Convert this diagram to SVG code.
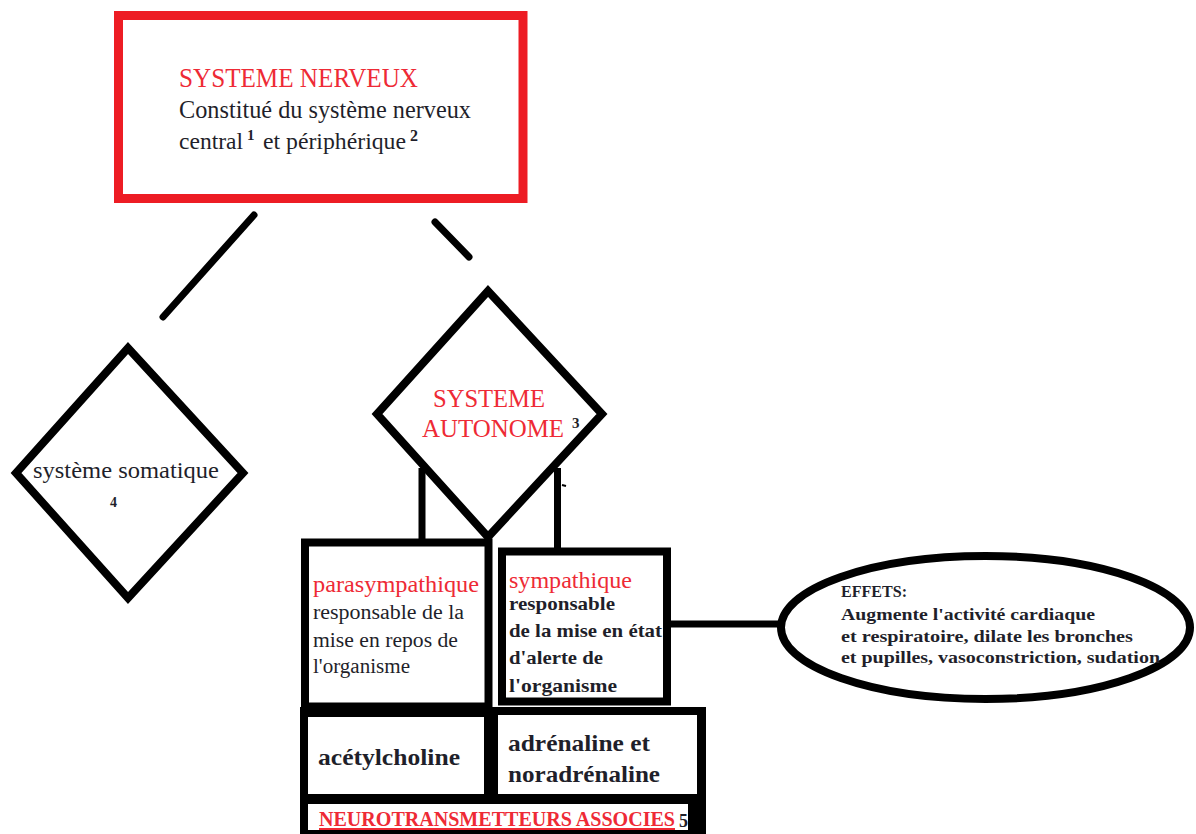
<svg xmlns="http://www.w3.org/2000/svg" width="1196" height="834" viewBox="0 0 1196 834">
<style>
.ser{font-family:"Liberation Serif","Times New Roman",serif;}
.red{fill:#ee2a35;}
.dk{fill:#1f1f2a;}
.b{font-weight:bold;}
.shape{fill:#fff;stroke:#000;stroke-width:8;}
.conn{stroke:#000;stroke-width:7;fill:none;}
</style>
<rect width="1196" height="834" fill="#fff"/>
<g id="connectors">
<line class="conn" x1="254" y1="215" x2="163" y2="317" stroke-linecap="round"/>
<line class="conn" x1="435" y1="222" x2="469" y2="257" stroke-linecap="round"/>
<line class="conn" x1="422" y1="468" x2="422" y2="542" stroke-width="8"/>
<line class="conn" x1="557.5" y1="468" x2="557.5" y2="551" stroke-width="8"/>
<line x1="562" y1="485" x2="566" y2="486" stroke="#000" stroke-width="2"/>
<line class="conn" x1="667" y1="624" x2="781" y2="624" stroke-width="8"/>
</g>
<g id="systeme-nerveux">
<rect x="118.5" y="15.5" width="404.5" height="183" fill="#fff" stroke="#ed1c24" stroke-width="9"/>
<text class="ser red" x="179" y="87" font-size="27" textLength="239" lengthAdjust="spacingAndGlyphs">SYSTEME NERVEUX</text>
<text class="ser dk" x="179" y="118" font-size="26" textLength="292" lengthAdjust="spacingAndGlyphs">Constitué du système nerveux</text>
<text class="ser dk" x="179" y="149" font-size="24" textLength="64" lengthAdjust="spacingAndGlyphs">central</text>
<text class="ser dk b" x="247" y="140" font-size="15">1</text>
<text class="ser dk" x="263" y="149" font-size="24" textLength="143" lengthAdjust="spacingAndGlyphs">et périphérique</text>
<text class="ser dk b" x="410" y="141" font-size="16">2</text>
</g>
<g id="systeme-somatique">
<polygon class="shape" points="128,348 243,473 128,598 16,473"/>
<text class="ser dk" x="33" y="478" font-size="23" textLength="186" lengthAdjust="spacingAndGlyphs">système somatique</text>
<text class="ser dk b" x="110" y="507" font-size="14">4</text>
</g>
<g id="systeme-autonome">
<polygon class="shape" points="488,291 602,414 488,537 377,414"/>
<text class="ser red" x="433" y="407" font-size="26" textLength="112" lengthAdjust="spacingAndGlyphs">SYSTEME</text>
<text class="ser red" x="422" y="437" font-size="26" textLength="142" lengthAdjust="spacingAndGlyphs">AUTONOME</text>
<text class="ser dk b" x="572" y="428" font-size="15">3</text>
</g>
<g id="parasympathique">
<rect class="shape" x="305" y="542.5" width="183.5" height="164"/>
<text class="ser red" x="313" y="592" font-size="23" textLength="166" lengthAdjust="spacingAndGlyphs">parasympathique</text>
<text class="ser dk" x="313" y="619" font-size="20" textLength="151" lengthAdjust="spacingAndGlyphs">responsable de la</text>
<text class="ser dk" x="313" y="647" font-size="20" textLength="145" lengthAdjust="spacingAndGlyphs">mise en repos de</text>
<text class="ser dk" x="313" y="673" font-size="20" textLength="97" lengthAdjust="spacingAndGlyphs">l'organisme</text>
</g>
<g id="sympathique">
<rect class="shape" x="502" y="551.5" width="165" height="150"/>
<text class="ser red" x="509" y="588" font-size="23" textLength="123" lengthAdjust="spacingAndGlyphs">sympathique</text>
<text class="ser dk b" x="509" y="610" font-size="19" textLength="106" lengthAdjust="spacingAndGlyphs">responsable</text>
<text class="ser dk b" x="509" y="637" font-size="19" textLength="153" lengthAdjust="spacingAndGlyphs">de la mise en état</text>
<text class="ser dk b" x="509" y="664" font-size="19" textLength="94" lengthAdjust="spacingAndGlyphs">d'alerte de</text>
<text class="ser dk b" x="509" y="692" font-size="19" textLength="108" lengthAdjust="spacingAndGlyphs">l'organisme</text>
</g>
<g id="neurotransmetteurs">
<rect x="300" y="707" width="406" height="127" fill="#000"/>
<rect x="308" y="717" width="176" height="77" fill="#fff"/>
<rect x="498" y="715" width="199" height="79" fill="#fff"/>
<rect x="308" y="804" width="380" height="26" fill="#fff"/>
<text class="ser dk b" x="318" y="765" font-size="24" textLength="142" lengthAdjust="spacingAndGlyphs">acétylcholine</text>
<text class="ser dk b" x="508" y="751" font-size="24" textLength="142" lengthAdjust="spacingAndGlyphs">adrénaline et</text>
<text class="ser dk b" x="508" y="782" font-size="24" textLength="152" lengthAdjust="spacingAndGlyphs">noradrénaline</text>
<text class="ser red b" x="319" y="826" font-size="20" textLength="356" lengthAdjust="spacingAndGlyphs">NEUROTRANSMETTEURS ASSOCIES</text>
<line x1="319" y1="829" x2="675" y2="829" stroke="#ee2a35" stroke-width="2"/>
<text class="ser dk b" x="679" y="827" font-size="18">5</text>
</g>
<g id="effets">
<ellipse cx="985.5" cy="627.5" rx="204.5" ry="71.5" fill="#fff" stroke="#000" stroke-width="8"/>
<text class="ser dk b" x="841" y="597" font-size="16" textLength="66" lengthAdjust="spacingAndGlyphs">EFFETS:</text>
<text class="ser dk b" x="841" y="620" font-size="17" textLength="254" lengthAdjust="spacingAndGlyphs">Augmente l'activité cardiaque</text>
<text class="ser dk b" x="841" y="642" font-size="17" textLength="292" lengthAdjust="spacingAndGlyphs">et respiratoire, dilate les bronches</text>
<text class="ser dk b" x="841" y="663" font-size="17" textLength="319" lengthAdjust="spacingAndGlyphs">et pupilles, vasoconstriction, sudation</text>
</g>
</svg>
